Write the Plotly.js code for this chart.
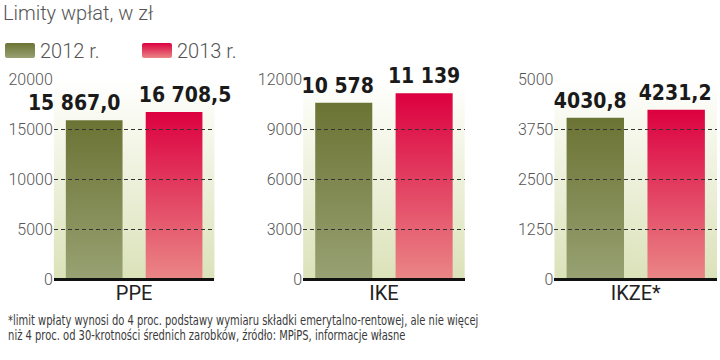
<!DOCTYPE html>
<html>
<head>
<meta charset="utf-8">
<script src="https://cdn.plot.ly/plotly-3.0.1.min.js"></script>
<style>
html,body{margin:0;padding:0;background:#fff;}
#chart{width:720px;height:360px;}
</style>
</head>
<body>
<div id="chart"></div>
<script>
// ---- data ----
const categories = ['PPE', 'IKE', 'IKZE*'];
const seriesNames = ['2012 r.', '2013 r.'];
const values2012 = [15867.0, 10578, 4030.8];
const values2013 = [16708.5, 11139, 4231.2];
const labels2012 = ['15 867,0', '10 578', '4030,8'];
const labels2013 = ['16 708,5', '11 139', '4231,2'];
const axisMax = [20000, 12000, 5000];
const axisStep = [5000, 3000, 1250];
const titleText = 'Limity wpłat, w zł';
const footnote1 = '*limit wpłaty wynosi do 4 proc. podstawy wymiaru składki emerytalno-rentowej, ale nie więcej';
const footnote2 = 'niż 4 proc. od 30-krotności średnich zarobków, źródło: MPiPS, informacje własne';

// ---- style ----
const OLIVE = '#6b7334', RED = '#dc0040', BG = '#dfe5c4';
const labelShift = [[-20, -6, -5], [11, 0, -1]]; // horizontal nudges of value labels (px)
const noteScaleX = 0.79;
const valueFont = {family: 'DejaVu Sans, sans-serif', size: 21, color: '#1a1a1a', weight: 700};
const tickFont = {family: 'Roboto, sans-serif', size: 16, color: '#555', weight: 300};
const catFont = {family: 'Roboto, sans-serif', size: 20, color: '#222'};
const noteFont = {family: 'DejaVu Sans, sans-serif', size: 14, color: '#3a3a3a'};
const xDomains = [[52/720, 213/720], [302/720, 464/720], [554/720, 717/720]];
const yDomain = [1 - 279/360, 1 - 79/360];

const traces = [];
const layout = {
  width: 720, height: 360,
  margin: {l: 0, r: 0, t: 0, b: 0},
  paper_bgcolor: '#fff', plot_bgcolor: BG,
  barmode: 'group', bargap: 0.005, bargroupgap: 0.29,
  showlegend: true,
  legend: {orientation: 'h', x: -0.003, y: 1 - 31/360, xanchor: 'left', yanchor: 'top',
           font: {family: 'Roboto, sans-serif', size: 20, color: '#555', weight: 300},
           bgcolor: 'rgba(0,0,0,0)', entrywidth: 92, traceorder: 'normal'},
  title: {text: titleText, x: 0.004, xanchor: 'left', y: 1 - 6/360, yanchor: 'top',
          font: {family: 'Roboto, sans-serif', size: 20, color: '#555', weight: 300}},
  annotations: [
    {text: footnote1, xref: 'paper', yref: 'paper', x: 0.005, y: 1 - 320/360, xanchor: 'left', yanchor: 'middle', showarrow: false, font: noteFont},
    {text: footnote2, xref: 'paper', yref: 'paper', x: 0.005, y: 1 - 335/360, xanchor: 'left', yanchor: 'middle', showarrow: false, font: noteFont}
  ]
};

categories.forEach((cat, i) => {
  const sfx = i === 0 ? '' : String(i + 1);
  traces.push({type: 'bar', name: seriesNames[0], legendgroup: 'a', showlegend: i === 0,
    x: [cat], y: [values2012[i]], text: [labels2012[i]], textposition: 'outside', constraintext: 'none', cliponaxis: false,
    textfont: valueFont, marker: {color: OLIVE, line: {width: 0}}, xaxis: 'x' + sfx, yaxis: 'y' + sfx, hoverinfo: 'skip'});
  traces.push({type: 'bar', name: seriesNames[1], legendgroup: 'b', showlegend: i === 0,
    x: [cat], y: [values2013[i]], text: [labels2013[i]], textposition: 'outside', constraintext: 'none', cliponaxis: false,
    textfont: valueFont, marker: {color: RED, line: {width: 0}}, xaxis: 'x' + sfx, yaxis: 'y' + sfx, hoverinfo: 'skip'});
  layout['xaxis' + sfx] = {domain: xDomains[i], anchor: 'y' + sfx, type: 'category', range: [-0.5, 0.5],
    showgrid: false, zeroline: false, showline: false, ticks: '', tickfont: catFont, fixedrange: true};
  layout['yaxis' + sfx] = {domain: yDomain, anchor: 'x' + sfx, range: [0, axisMax[i]], dtick: axisStep[i], tick0: 0,
    tickformat: 'd', showgrid: true, gridcolor: '#333', gridwidth: 1, griddash: '4px,3px',
    zeroline: true, zerolinecolor: '#111', zerolinewidth: 3, showline: false, ticks: '', tickfont: tickFont, fixedrange: true};
});

function addGrad(defs, id, stops) {
  const ns = 'http://www.w3.org/2000/svg';
  const g = document.createElementNS(ns, 'linearGradient');
  g.setAttribute('id', id); g.setAttribute('x1', '0'); g.setAttribute('y1', '0'); g.setAttribute('x2', '0'); g.setAttribute('y2', '1');
  stops.forEach(s => { const st = document.createElementNS(ns, 'stop'); st.setAttribute('offset', s[0]); st.setAttribute('stop-color', s[1]); g.appendChild(st); });
  defs.appendChild(g);
}
function rgb(hex) { const n = parseInt(hex.slice(1), 16); return 'rgb(' + (n >> 16) + ', ' + ((n >> 8) & 255) + ', ' + (n & 255) + ')'; }

Plotly.newPlot('chart', traces, layout, {staticPlot: true}).then(gd => {
  const ns = 'http://www.w3.org/2000/svg';
  const svg = gd.querySelector('svg.main-svg');
  const defs = document.createElementNS(ns, 'defs');
  svg.insertBefore(defs, svg.firstChild);
  addGrad(defs, 'gOlive', [['0', '#6b7334'], ['1', '#98a172']]);
  addGrad(defs, 'gRed', [['0', '#dc0040'], ['1', '#ea8686']]);
  addGrad(defs, 'gBg', [['0', '#ffffff'], ['0.25', '#f6f8ec'], ['1', '#dbe2b9']]);
  gd.querySelectorAll('path, rect').forEach(el => {
    const f = el.style.fill;
    if (f === rgb(OLIVE)) el.style.fill = 'url(#gOlive)';
    else if (f === rgb(RED)) el.style.fill = 'url(#gRed)';
    else if (f === rgb(BG)) el.style.fill = 'url(#gBg)';
  });
  // value label nudges, condensed glyphs
  gd.querySelectorAll('.barlayer .trace').forEach((tr, k) => {
    const cat = Math.floor(k / 2), ser = k % 2;
    tr.querySelectorAll('text').forEach(t => {
      t.style.fontStretch = 'condensed';
      const tf = t.getAttribute('transform') || '';
      t.setAttribute('transform', 'translate(' + labelShift[ser][cat] + ',-2) ' + tf);
    });
  });
  // footnote: narrow condensed lettering, left edge kept
  gd.querySelectorAll('.annotation text').forEach(t => {
    const left0 = t.getBBox().x;
    t.style.fontStretch = 'condensed';
    const left1 = t.getBBox().x;
    const tf = t.getAttribute('transform') || '';
    t.setAttribute('transform', tf + ' translate(' + left0 + ',0) scale(' + noteScaleX + ',1) translate(' + (-left1) + ',0)');
  });
  // gridlines drawn over bars
  gd.querySelectorAll('.subplot').forEach(sp => {
    ['.gridlayer', '.zerolinelayer'].forEach(sel => { const l = sp.querySelector(sel); if (l) sp.appendChild(l); });
  });
  // legend swatches as wide rounded rectangles
  gd.querySelectorAll('.legend .legendpoints path').forEach(p => {
    p.setAttribute('d', 'M-13,-7.5H13Q15,-7.5 15,-5.5V5.5Q15,7.5 13,7.5H-13Q-15,7.5 -15,5.5V-5.5Q-15,-7.5 -13,-7.5Z');
    p.style.stroke = 'none';
  });
});
</script>
</body>
</html>
